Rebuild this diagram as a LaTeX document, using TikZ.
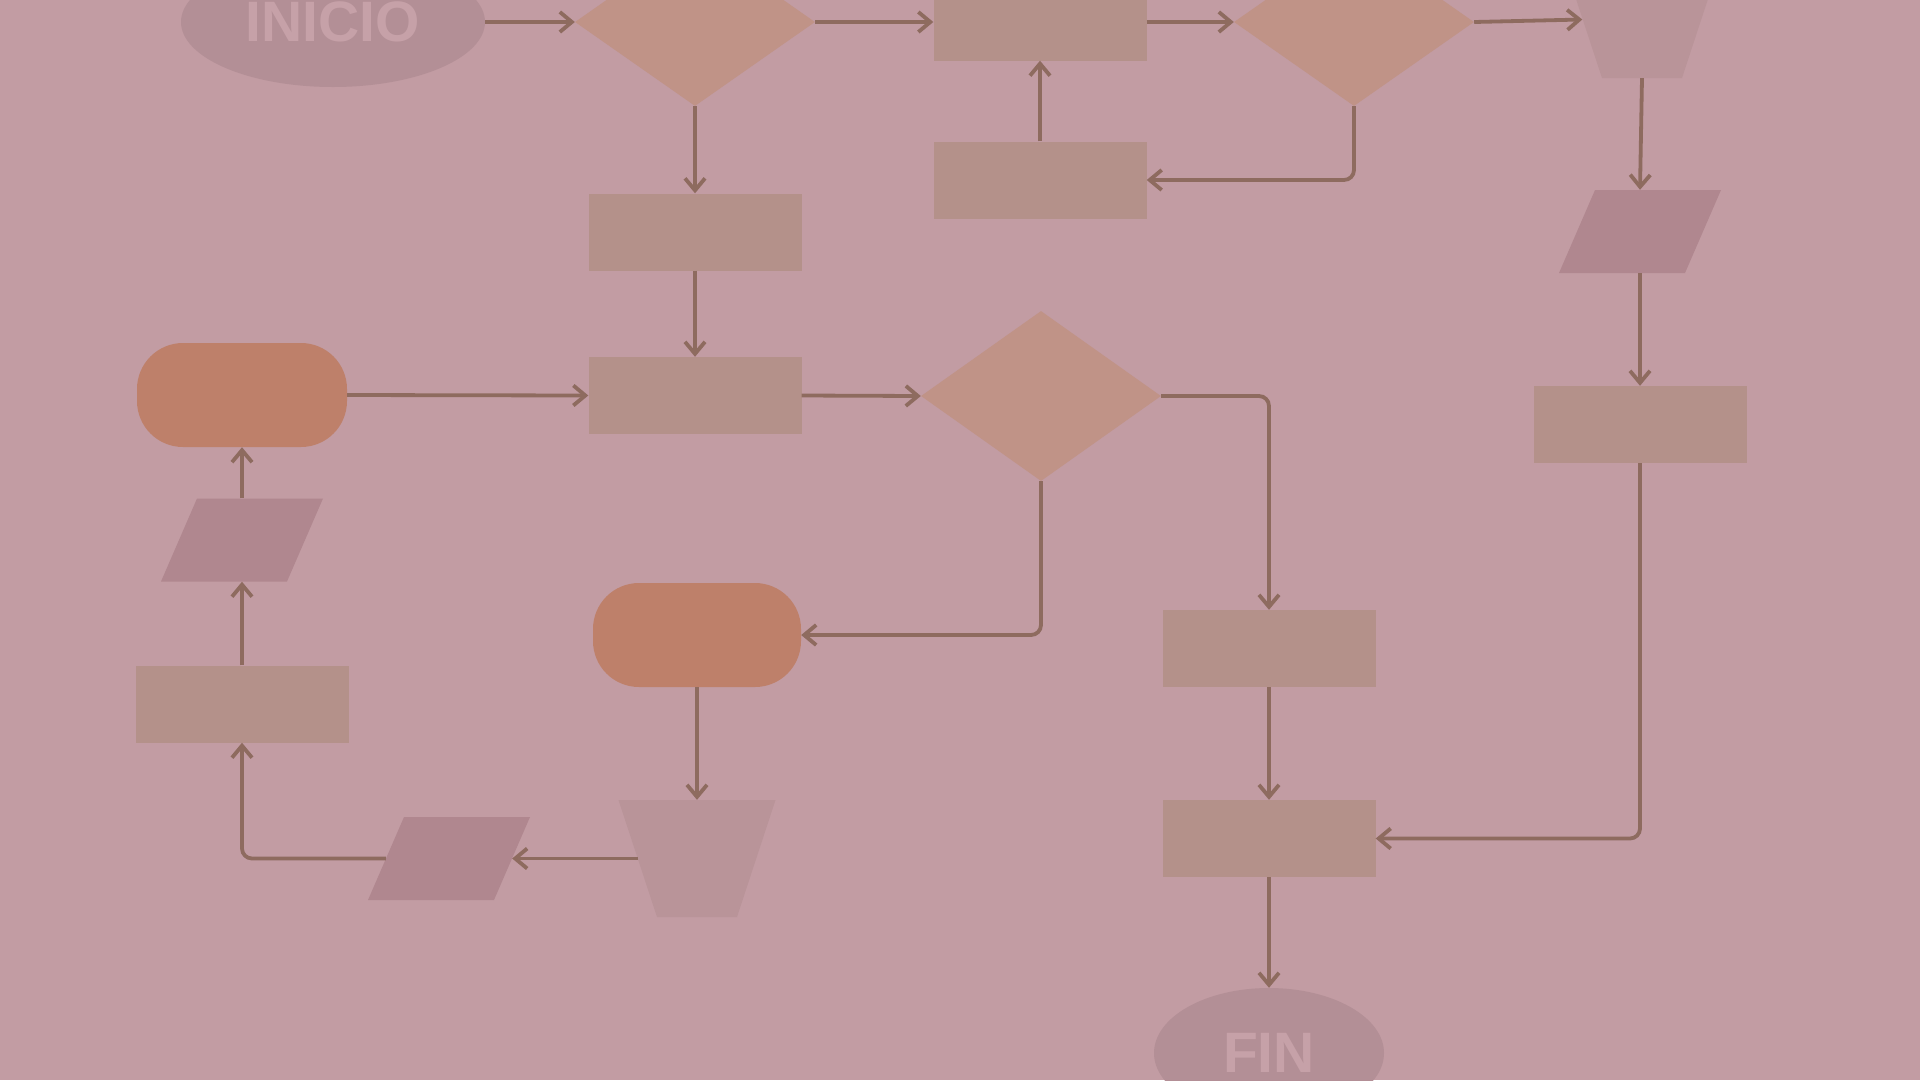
\documentclass[tikz,border=0pt]{standalone}
\usepackage{fontspec}
\setmainfont{Liberation Sans}
\usetikzlibrary{shapes.geometric,arrows.meta}
\definecolor{bgcol}{HTML}{C29CA3}
\definecolor{rectcol}{HTML}{B4918A}
\definecolor{diacol}{HTML}{C09387}
\definecolor{stadcol}{HTML}{BE806A}
\definecolor{parcol}{HTML}{B0878F}
\definecolor{trapcol}{HTML}{B99499}
\definecolor{ellcol}{HTML}{B38F96}
\definecolor{txtcol}{HTML}{C6A1A8}
\definecolor{arrowcol}{HTML}{8E6B5F}
\begin{document}
\begin{tikzpicture}[x=1pt,y=-1pt,
  conn/.style={draw=arrowcol, line width=3.8pt, rounded corners=10pt,
    -{Straight Barb[length=12pt,width=20pt,line width=3.8pt]}},
  procbox/.style={rectangle, fill=rectcol, minimum width=213pt, minimum height=77pt, inner sep=0pt},
  decide/.style={diamond, fill=diacol, minimum width=240pt, minimum height=168pt, inner sep=0pt},
  term/.style={ellipse, fill=ellcol, minimum width=304pt, minimum height=130pt, inner sep=0pt,
    text=txtcol, font=\fontsize{57}{57}\selectfont\bfseries},
  stadium/.style={rectangle, rounded corners=46pt, fill=stadcol, minimum width=210pt, minimum height=104pt, inner sep=0pt},
  datapar/.style={rectangle, minimum width=162pt, minimum height=83pt, inner sep=0pt,
    path picture={\fill[parcol] (path picture bounding box.south west) -- ([xshift=36pt]path picture bounding box.north west) -- (path picture bounding box.north east) -- ([xshift=-36pt]path picture bounding box.south east) -- cycle;}},
  manop/.style={rectangle, minimum width=157pt, minimum height=117pt, inner sep=0pt,
    path picture={\fill[trapcol] (path picture bounding box.north west) -- (path picture bounding box.north east) -- ([xshift=-38.5pt]path picture bounding box.south east) -- ([xshift=38.5pt]path picture bounding box.south west) -- cycle;}}
]
\path[use as bounding box] (0,0) rectangle (1920,1080);
\clip (0,0) rectangle (1920,1080);
\fill[bgcol] (0,0) rectangle (1920,1080);

% nodes
\node[term] (ini) at (333,22) {INICIO};
\node[decide] (d1) at (695,22) {};
\node[procbox] (r1) at (1040,22) {};
\node[decide] (d2) at (1354,22) {};
\node[manop] (t1) at (1642,19.5) {};
\node[procbox] (r2) at (1040,180) {};
\node[procbox] (r3) at (695,232) {};
\node[procbox] (r4) at (695,395.5) {};
\node[decide, minimum height=170pt] (d3) at (1041,396) {};
\node[datapar] (p1) at (1640,231.5) {};
\node[procbox] (rR) at (1640,424.5) {};
\node[procbox] (r5) at (1269,648.5) {};
\node[procbox] (r6) at (1269,838.5) {};
\node[term, minimum width=230pt] (fin) at (1269,1053) {FIN};
\node[stadium, minimum width=208pt] (s2) at (697,635) {};
\node[manop] (t2) at (697,858.5) {};
\node[datapar] (p2) at (449,858.5) {};
\node[procbox] (r7) at (242,704) {};
\node[datapar] (p3) at (242,540) {};
\node[stadium] (s1) at (242,395) {};

% connectors
\draw[conn] (ini.east) -- (d1.west);
\draw[conn] (d1.east) -- (r1.west);
\draw[conn] (r1.east) -- (d2.west);
\draw[conn] (d2.east) -- ([xshift=19pt]t1.west);
\draw[conn] (t1.south) -- (p1.north);
\draw[conn] (p1.south) -- (rR.north);
\draw[conn] (rR.south) |- (r6.east);
\draw[conn] (d2.south) |- (r2.east);
\draw[conn] (r2.north) -- (r1.south);
\draw[conn] (d1.south) -- (r3.north);
\draw[conn] (r3.south) -- (r4.north);
\draw[conn] (r4.east) -- (d3.west);
\draw[conn] (d3.east) -| (r5.north);
\draw[conn] (r5.south) -- (r6.north);
\draw[conn] (r6.south) -- (fin.north);
\draw[conn] (d3.south) |- (s2.east);
\draw[conn] (s2.south) -- (t2.north);
\draw[conn] ([xshift=20pt]t2.west) -- ([xshift=-18pt]p2.east);
\draw[conn] ([xshift=18pt]p2.west) -| (r7.south);
\draw[conn] (r7.north) -- (p3.south);
\draw[conn] (p3.north) -- (s1.south);
\draw[conn] (s1.east) -- (r4.west);
\end{tikzpicture}
\end{document}
